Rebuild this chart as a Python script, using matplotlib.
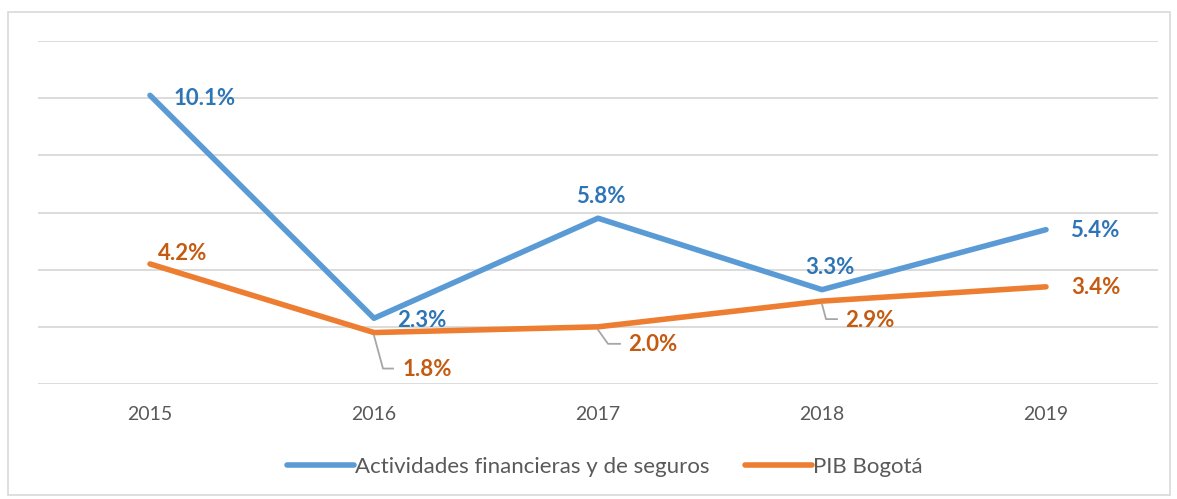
import matplotlib.pyplot as plt
import matplotlib.patches as mpatches

plt.rcParams['font.family'] = ['Lato', 'DejaVu Sans']

years = ['2015', '2016', '2017', '2018', '2019']
financieras = [10.1, 2.3, 5.8, 3.3, 5.4]
pib_bogota = [4.2, 1.8, 2.0, 2.9, 3.4]

blue = '#5B9BD5'
orange = '#ED7D31'
blue_text = '#2E75B6'
orange_text = '#C55A11'

W, H = 1177, 499
fig = plt.figure(figsize=(W / 100, H / 100), dpi=100)
ax = fig.add_axes([38 / W, 1 - 384 / H, (1158 - 38) / W, (384 - 41) / H])

x = list(range(len(years)))
ax.plot(x, financieras, color=blue, lw=4, solid_capstyle='round',
        label='Actividades financieras y de seguros', zorder=3)
ax.plot(x, pib_bogota, color=orange, lw=4, solid_capstyle='round',
        label='PIB Bogotá', zorder=3)

ax.set_xlim(-0.5, 4.5)
ax.set_ylim(0, 12)
ax.set_yticks(range(0, 13, 2))
ax.yaxis.grid(True, color='#D9D9D9', lw=1.3)
ax.set_axisbelow(True)
ax.tick_params(axis='y', left=False, labelleft=False)
ax.tick_params(axis='x', length=0, pad=16, labelsize=14, labelcolor='#595959')
ax.set_xticks(x)
ax.set_xticklabels(years)
for s in ax.spines.values():
    s.set_visible(False)

# data labels (offsets in pixels)
blue_off = [(24, -3, 'left'), (23, -2, 'left'), (3, 22, 'center'),
            (8, 22, 'center'), (24, -1, 'left')]
for xi, v, (dx, dy, ha) in zip(x, financieras, blue_off):
    ax.annotate(f'{v:.1f}%', (xi, v), xytext=(dx, dy), textcoords='offset pixels',
                ha=ha, va='center', fontsize=16, fontweight='bold', color=blue_text)

orange_off = [(33, 10, 'center', None), (29, -37, 'left', (9, -36, 19)),
              (30, -18, 'left', (10, -17, 22)), (23, -19, 'left', (4, -18, 15)),
              (25, -1, 'left', None)]
for xi, v, (dx, dy, ha, lead) in zip(x, pib_bogota, orange_off):
    ax.annotate(f'{v:.1f}%', (xi, v), xytext=(dx, dy), textcoords='offset pixels',
                ha=ha, va='center', fontsize=16, fontweight='bold', color=orange_text)
    if lead:
        lx, ly, hx = lead
        px, py = ax.transData.transform((xi, v))
        fig.add_artist(plt.Line2D([(px) / W, (px + lx) / W, (px + hx) / W],
                                  [(py - 3) / H, (py + ly) / H, (py + ly) / H],
                                  color='#A6A6A6', lw=1.3))

leg = fig.legend(loc='center', bbox_to_anchor=(605 / W, 1 - 467 / H), ncol=2,
                 frameon=False, fontsize=16, handlelength=3.0, columnspacing=1.6,
                 handletextpad=0.05)
for t in leg.get_texts():
    t.set_color('#595959')

fig.add_artist(mpatches.Rectangle((8 / W, 1 - 495 / H), (1170 - 8) / W, (495 - 12) / H,
                                  fill=False, edgecolor='#D9D9D9', lw=1.2))

fig.savefig('out.png', dpi=100)
